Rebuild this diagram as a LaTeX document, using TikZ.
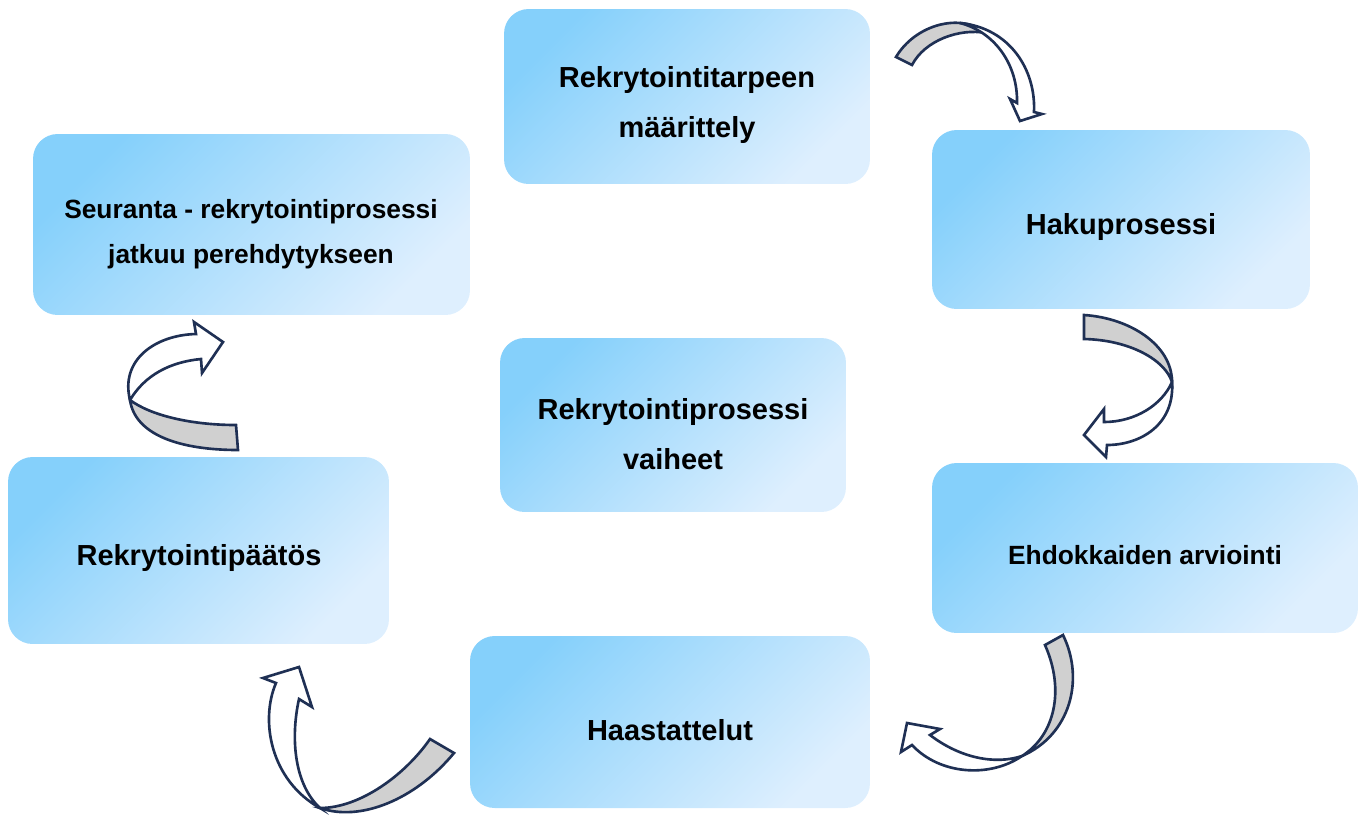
\documentclass[tikz,border=0pt]{standalone}
\usepackage{fontspec}
\setmainfont{Liberation Sans}
\usepackage{tikz}

\definecolor{boxtop}{RGB}{133,208,251}
\definecolor{boxbot}{RGB}{222,239,254}
\definecolor{ribbonline}{RGB}{31,48,84}
\definecolor{ribbongrey}{RGB}{208,208,208}

\begin{document}
\begin{tikzpicture}[x={(0.02cm,0)}, y={(0,-0.02cm)},
  stage/.style={rounded corners=14pt, top color=boxtop, bottom color=boxbot, shading angle=45},
  stagetext/.style={align=center, font=\bfseries\fontsize{16.5}{28.4}\selectfont},
  smalltext/.style={align=center, font=\bfseries\fontsize{15}{25.5}\selectfont},
  ribbonback/.style={draw=ribbonline, fill=ribbongrey, line width=1.5pt},
  ribbonfront/.style={draw=ribbonline, fill=white, line width=1.5pt}]

\useasboundingbox (0,0) rectangle (1359,816);

\node[stage, minimum width=7.32cm, minimum height=3.5cm] (need) at (687,96.5) {};
\node[stage, minimum width=7.56cm, minimum height=3.58cm] (search) at (1121,219.5) {};
\node[stage, minimum width=8.52cm, minimum height=3.4cm] (assess) at (1145,548) {};
\node[stage, minimum width=8cm, minimum height=3.44cm] (interview) at (670,722) {};
\node[stage, minimum width=7.62cm, minimum height=3.74cm] (decision) at (198.5,550.5) {};
\node[stage, minimum width=8.74cm, minimum height=3.62cm] (followup) at (251.5,224.5) {};
\node[stage, minimum width=6.92cm, minimum height=3.48cm] (phases) at (673,425) {};

\node[stagetext] (need-t) at (687,105) {Rekrytointitarpeen\\määrittely};
\node[stagetext] (search-t) at (1121,227) {Hakuprosessi};
\node[smalltext] (assess-t) at (1145,555) {Ehdokkaiden arviointi};
\node[stagetext] (interview-t) at (670,730) {Haastattelut};
\node[stagetext] (decision-t) at (199,558) {Rekrytointipäätös};
\node[smalltext] (followup-t) at (251,234) {Seuranta - rekrytointiprosessi\\jatkuu perehdytykseen};
\node[stagetext] (phases-t) at (673,434) {Rekrytointiprosessi\\vaiheet};

\filldraw[ribbonback] (896,57) .. controls (915,25) and (960,12) .. (986,33)
  .. controls (960,28) and (925,40) .. (912,65) -- cycle;
\filldraw[ribbonfront] (960,23) .. controls (1010,28) and (1036,70) .. (1034,112)
  -- (1042,114) -- (1020,121) -- (1010,99) -- (1017,103)
  .. controls (1018,65) and (995,32) .. (960,23) -- cycle;

\filldraw[ribbonback] (1084,315) .. controls (1130,318) and (1172,345) .. (1172,382)
  .. controls (1165,360) and (1130,340) .. (1084,339) -- cycle;
\filldraw[ribbonfront] (1172,382) .. controls (1175,425) and (1140,445) .. (1107,445)
  -- (1106,457) -- (1084,435) -- (1104,409) -- (1104,422)
  .. controls (1135,422) and (1162,405) .. (1172,382) -- cycle;

\filldraw[ribbonback] (1063,635) .. controls (1085,680) and (1070,735) .. (1022,756)
  .. controls (1055,735) and (1065,690) .. (1045,645) -- cycle;
\filldraw[ribbonfront] (1022,756) .. controls (990,778) and (940,775) .. (912,745)
  -- (901,752) -- (907,723) -- (940,729) -- (930,735)
  .. controls (960,758) and (995,765) .. (1022,756) -- cycle;

\filldraw[ribbonback] (454,753) .. controls (415,800) and (360,822) .. (320,808)
  .. controls (360,808) and (405,775) .. (430,739) -- cycle;
\filldraw[ribbonfront] (320,808) .. controls (270,780) and (260,720) .. (276,683)
  -- (263,678) -- (299,667) -- (312,707) -- (299,699)
  .. controls (290,740) and (295,785) .. (320,808) -- cycle;

\filldraw[ribbonback] (236,425) .. controls (190,425) and (150,415) .. (130,400)
  .. controls (135,435) and (180,450) .. (238,450) -- cycle;
\filldraw[ribbonfront] (130,400) .. controls (120,360) and (155,335) .. (196,334)
  -- (194,322) -- (223,342) -- (202,373) -- (201,359)
  .. controls (170,362) and (145,375) .. (130,400) -- cycle;
\end{tikzpicture}
\end{document}
